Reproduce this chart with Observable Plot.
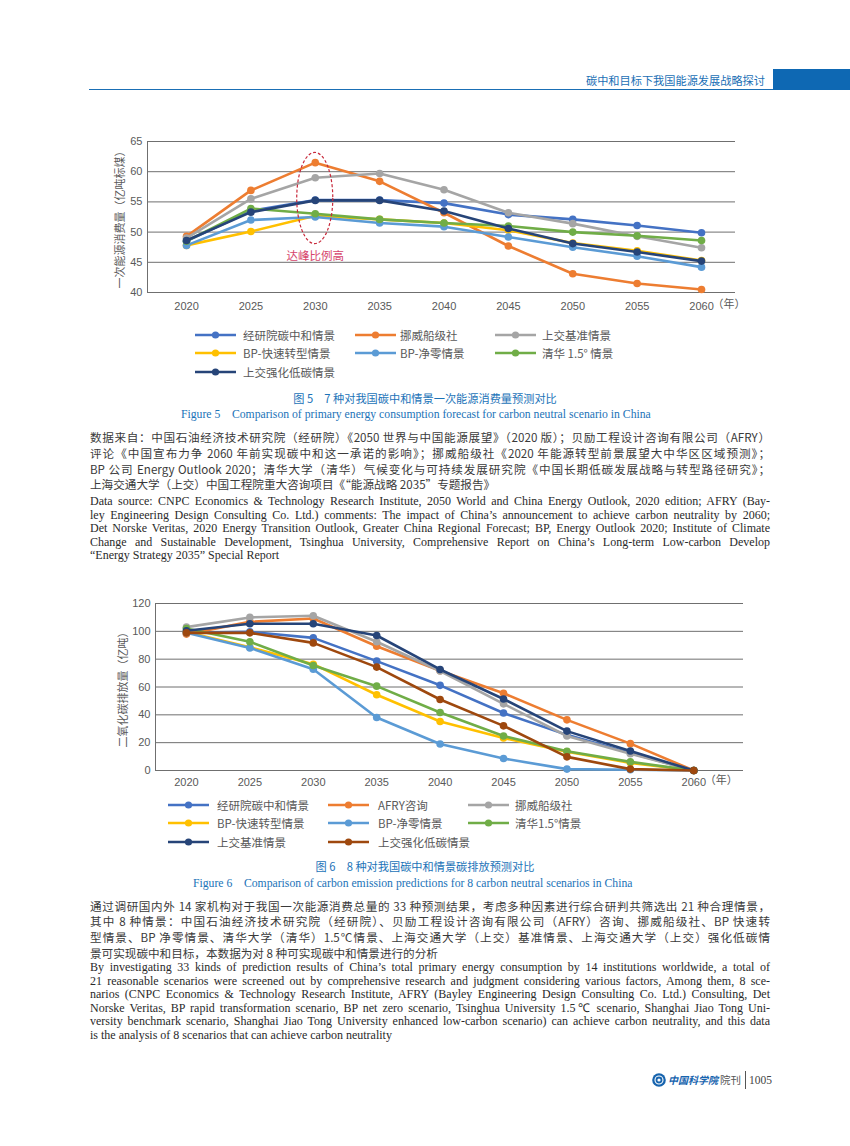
<!DOCTYPE html>
<html><head><meta charset="utf-8">
<script src="https://cdn.jsdelivr.net/npm/d3@7"></script>
<script src="https://cdn.jsdelivr.net/npm/@observablehq/plot@0.6"></script>
<style>
body{margin:0;background:#fff;}
#page{position:relative;width:850px;height:1146px;overflow:hidden;font-family:"Noto Sans CJK SC","Liberation Sans",sans-serif;}
</style></head><body><div id="page"></div>
<script>
// ---------- data ----------
const years = [2020, 2025, 2030, 2035, 2040, 2045, 2050, 2055, 2060];

// Figure 5: primary energy consumption (亿吨标煤)
const names1 = ["经研院碳中和情景", "挪威船级社", "上交基准情景", "BP-快速转型情景", "BP-净零情景", "清华 1.5° 情景", "上交强化低碳情景"];
const colors1 = ["#4472C4", "#ED7D31", "#A5A5A5", "#FFC000", "#5B9BD5", "#70AD47", "#264478"];
const e_jyy      = [48.5, 53.5, 55.3, 55.3, 54.8, 52.9, 52.1, 51.1, 49.9];
const e_dnv      = [49.3, 56.9, 61.5, 58.4, 53.2, 47.7, 43.1, 41.5, 40.5];
const e_sjtuBase = [49.0, 55.5, 59.0, 59.7, 57.0, 53.2, 51.4, 49.3, 47.4];
const e_bpRapid  = [47.8, 50.1, 52.7, 52.1, 51.5, 50.3, 48.2, 46.9, 45.3];
const e_bpNet    = [47.8, 52.0, 52.5, 51.5, 50.9, 49.2, 47.5, 46.0, 44.2];
const e_thu      = [48.5, 53.9, 53.05, 52.1, 51.5, 51.0, 50.0, 49.4, 48.6];
const e_sjtuLow  = [48.6, 53.3, 55.25, 55.25, 53.5, 50.6, 48.1, 46.7, 45.2];
const series1 = [e_jyy, e_dnv, e_sjtuBase, e_bpRapid, e_bpNet, e_thu, e_sjtuLow];
const yTicks1 = [40, 45, 50, 55, 60, 65];
const yLabel1 = "一次能源消费量（亿吨标煤）";
const note1 = "达峰比例高";
const noteYear = 2030, noteValue = 46.0;          // label position
const ellYear = 2030, ellValue = 55.56, ellHalfYears = 1.4, ellHalfValue = 7.55; // dashed ellipse

// Figure 6: CO2 emissions (亿吨)
const names2 = ["经研院碳中和情景", "AFRY咨询", "挪威船级社", "BP-快速转型情景", "BP-净零情景", "清华1.5°情景", "上交基准情景", "上交强化低碳情景"];
const colors2 = ["#4472C4", "#ED7D31", "#A5A5A5", "#FFC000", "#5B9BD5", "#70AD47", "#264478", "#9E480E"];
const c_jyy      = [99.0, 99.6, 95.3, 78.6, 61.2, 41.3, 25.6, 12.5, 0];
const c_afry     = [98.0, 106.8, 109.2, 89.3, 71.7, 55.5, 36.4, 19.3, 0];
const c_dnv      = [103.0, 110.0, 111.2, 92.5, 71.5, 47.9, 24.8, 12.1, 0];
const c_bpRapid  = [99.5, 88.6, 76.4, 54.4, 35.2, 23.3, 13.5, 5.5, 0];
const c_bpNet    = [99.0, 88.1, 72.8, 38.1, 19.0, 8.6, 1.0, 0.5, 0];
const c_thu      = [102.0, 92.5, 75.4, 60.6, 41.7, 24.8, 13.8, 6.2, 0];
const c_sjtuBase = [100.4, 105.4, 105.4, 97.0, 72.6, 51.4, 28.3, 14.0, 0];
const c_sjtuLow  = [98.9, 98.9, 91.7, 74.3, 51.0, 32.1, 9.8, 1.0, 0];
const series2 = [c_jyy, c_afry, c_dnv, c_bpRapid, c_bpNet, c_thu, c_sjtuBase, c_sjtuLow];
const yTicks2 = [0, 20, 40, 60, 80, 100, 120];
const yLabel2 = "二氧化碳排放量（亿吨）";
const yearUnit = "（年）";

// ---------- texts ----------
const headerText = "碳中和目标下我国能源发展战略探讨";
const cap5cn = "图 5　7 种对我国碳中和情景一次能源消费量预测对比";
const cap5en = "Figure 5    Comparison of primary energy consumption forecast for carbon neutral scenario in China";
const src5cn = [
  "数据来自：中国石油经济技术研究院（经研院）《2050 世界与中国能源展望》（2020 版）；贝励工程设计咨询有限公司（AFRY）",
  "评论《中国宣布力争 2060 年前实现碳中和这一承诺的影响》；挪威船级社《2020 年能源转型前景展望大中华区区域预测》；",
  "BP 公司 Energy Outlook 2020；清华大学（清华）气候变化与可持续发展研究院《中国长期低碳发展战略与转型路径研究》；",
  "上海交通大学（上交）中国工程院重大咨询项目《“能源战略 2035”专题报告》"
];
const src5en = [
  "Data source: CNPC Economics & Technology Research Institute, 2050 World and China Energy Outlook, 2020 edition; AFRY (Bay-",
  "ley Engineering Design Consulting Co. Ltd.) comments: The impact of China’s announcement to achieve carbon neutrality by 2060;",
  "Det Norske Veritas, 2020 Energy Transition Outlook, Greater China Regional Forecast; BP, Energy Outlook 2020; Institute of Climate",
  "Change and Sustainable Development, Tsinghua University, Comprehensive Report on China’s Long-term Low-carbon Develop",
  "“Energy Strategy 2035” Special Report"
];
const cap6cn = "图 6　8 种对我国碳中和情景碳排放预测对比";
const cap6en = "Figure 6    Comparison of carbon emission predictions for 8 carbon neutral scenarios in China";
const src6cn = [
  "通过调研国内外 14 家机构对于我国一次能源消费总量的 33 种预测结果，考虑多种因素进行综合研判共筛选出 21 种合理情景，",
  "其中 8 种情景：中国石油经济技术研究院（经研院）、贝励工程设计咨询有限公司（AFRY）咨询、挪威船级社、BP 快速转",
  "型情景、BP 净零情景、清华大学（清华）1.5℃情景、上海交通大学（上交）基准情景、上海交通大学（上交）强化低碳情",
  "景可实现碳中和目标，本数据为对 8 种可实现碳中和情景进行的分析"
];
const src6en = [
  "By investigating 33 kinds of prediction results of China’s total primary energy consumption by 14 institutions worldwide, a total of",
  "21 reasonable scenarios were screened out by comprehensive research and judgment considering various factors, Among them, 8 sce-",
  "narios (CNPC Economics & Technology Research Institute, AFRY (Bayley Engineering Design Consulting Co. Ltd.) Consulting, Det",
  "Norske Veritas, BP rapid transformation scenario, BP net zero scenario, Tsinghua University 1.5℃ scenario, Shanghai Jiao Tong Uni-",
  "versity benchmark scenario, Shanghai Jiao Tong University enhanced low-carbon scenario) can achieve carbon neutrality, and this data",
  "is the analysis of 8 scenarios that can achieve carbon neutrality"
];
const footerBrand = "中国科学院", footerJournal = "院刊", footerPage = "1005";

// ---------- helpers ----------
const page = document.getElementById("page");
function el(tag, css, text) {
  const e = document.createElement(tag);
  e.style.cssText = css;
  if (text != null) e.textContent = text;
  page.appendChild(e);
  return e;
}
function textBlock(lines, x, y0, lead, width, font, size, color) {
  lines.forEach((t, i) => {
    const last = i === lines.length - 1;
    const d = el("div", `position:absolute;left:${x}px;top:${y0 + i * lead - 8}px;width:${width}px;height:16px;line-height:16px;font-family:${font};font-size:${size}px;color:${color};white-space:nowrap;text-align:left;${last ? "" : "text-align-last:justify;text-align:justify;"}`, t);
    let s = size;
    while (d.scrollWidth > width + 0.5 && s > 6) { s -= 0.1; d.style.fontSize = s + "px"; }
  });
}
function tidy(names, series) {
  return names.map((n, i) => series[i].map((v, j) => ({series: n, year: years[j], value: v})));
}
function legend(names, colors, colX, textX, rowY) {
  names.forEach((n, i) => {
    const c = i % 3, r = Math.floor(i / 3);
    const svg = d3.create("svg").attr("width", 42).attr("height", 10)
      .style("position", "absolute").style("left", colX[c] + "px").style("top", (rowY[r] - 5) + "px");
    svg.append("line").attr("x1", 0).attr("x2", 41).attr("y1", 5).attr("y2", 5).attr("stroke", colors[i]).attr("stroke-width", 2.6);
    svg.append("circle").attr("cx", 20.5).attr("cy", 5).attr("r", 3.6).attr("fill", colors[i]);
    page.appendChild(svg.node());
    el("div", `position:absolute;left:${textX[c]}px;top:${rowY[r] - 8}px;font-size:11.5px;line-height:16px;color:#595959;white-space:nowrap;`, n);
  });
}
function lineChart({names, colors, series, yDomain, yTicks, xDomain, top, mTop, mLeft, mRight, mBottom, height, xPad, yPad, yLabel, yLabelDx, unitDx, extra}) {
  const groups = tidy(names, series);
  const marks = [
    Plot.gridY(yTicks, {stroke: "#6f6f6f", strokeOpacity: 1, strokeWidth: 1}),
    Plot.ruleX([xDomain[0]], {stroke: "#6f6f6f", strokeWidth: 1}),
    Plot.axisX({ticks: years, tickFormat: d => String(d), tickSize: 0, tickPadding: xPad, label: null, fill: "#595959"}),
    Plot.axisY({ticks: yTicks, tickFormat: d => String(d), tickSize: 0, tickPadding: yPad, label: null, fill: "#595959"}),
    Plot.text([yLabel], {frameAnchor: "left", textAnchor: "middle", rotate: -90, dx: yLabelDx, fontSize: 11, fill: "#595959", fontFamily: "Noto Sans CJK SC"}),
    Plot.text([yearUnit], {x: () => years[years.length - 1], frameAnchor: "bottom", textAnchor: "start", dx: unitDx, dy: xPad + 5, fontSize: 11, fill: "#595959", fontFamily: "Noto Sans CJK SC"})
  ];
  groups.forEach((g, i) => {
    marks.push(Plot.line(g, {x: "year", y: "value", stroke: colors[i], strokeWidth: 2.6}));
    marks.push(Plot.dot(g, {x: "year", y: "value", fill: colors[i], r: 3.8, stroke: "none"}));
  });
  if (extra) marks.push(...extra);
  const svg = Plot.plot({
    width: 850, height, marginTop: mTop, marginLeft: mLeft, marginRight: mRight, marginBottom: mBottom,
    x: {domain: xDomain, axis: null}, y: {domain: yDomain, axis: null},
    style: {fontFamily: "'Liberation Sans', sans-serif", fontSize: "11px", color: "#595959", background: "transparent", overflow: "visible"},
    marks
  });
  svg.style.position = "absolute"; svg.style.left = "0px"; svg.style.top = top + "px";
  page.appendChild(svg);
}

// ---------- header ----------
el("div", "position:absolute;left:89px;top:88.5px;width:684px;height:1.5px;background:#1a6fb5;");
el("div", "position:absolute;left:773px;top:69px;width:77px;height:21px;background:#0e68b3;");
el("div", "position:absolute;right:85px;top:72px;font-size:11.2px;line-height:16px;color:#1a6fb5;white-space:nowrap;", headerText);

// ---------- Figure 5 chart ----------
lineChart({
  names: names1, colors: colors1, series: series1, yDomain: [40, 65], yTicks: yTicks1,
  xDomain: [2016.97, 2062.64], top: 120, mTop: 21, mLeft: 147, mRight: 115, mBottom: 29, height: 201,
  xPad: 10, yPad: 5, yLabel: yLabel1, yLabelDx: -27, unitDx: 11,
  extra: [
    Plot.text([note1], {x: () => noteYear, y: () => noteValue, fill: "#d6456c", fontSize: 11.5, fontFamily: "Noto Sans CJK SC"}),
    (index, scales) => {
      const cx = scales.x(ellYear), cy = scales.y(ellValue);
      const rx = scales.x(ellYear + ellHalfYears) - cx, ry = scales.y(ellValue - ellHalfValue) - cy;
      return d3.create("svg:ellipse").attr("cx", cx).attr("cy", cy).attr("rx", rx).attr("ry", ry)
        .attr("fill", "none").attr("stroke", "#c8283a").attr("stroke-width", 1.2).attr("stroke-dasharray", "3,2").node();
    }
  ]
});
legend(names1, colors1, [195, 355, 495], [243, 400, 542], [335, 353, 372]);

// ---------- captions & text fig 5 ----------
el("div", "position:absolute;left:0;width:850px;top:390px;text-align:center;font-family:'Noto Sans CJK SC';font-size:11.2px;line-height:16px;color:#1b73b8;", cap5cn);
el("div", "position:absolute;left:181px;top:407px;font-family:'Liberation Serif';font-size:11.7px;line-height:16px;color:#1b73b8;white-space:pre;", cap5en);
textBlock(src5cn, 90, 437, 15.8, 680, "'Noto Sans CJK SC'", 11.6, "#3a3a3a");
textBlock(src5en, 90, 501, 13.6, 680, "'Liberation Serif'", 12, "#2a2a2a");

// ---------- Figure 6 chart ----------
lineChart({
  names: names2, colors: colors2, series: series2, yDomain: [0, 120], yTicks: yTicks2,
  xDomain: [2017.56, 2063.92], top: 590, mTop: 13, mLeft: 155, mRight: 107, mBottom: 25, height: 205,
  xPad: 8, yPad: 5, yLabel: yLabel2, yLabelDx: -32, unitDx: 11
});
legend(names2, colors2, [168, 328, 468], [217, 378, 515], [805, 823, 842]);

el("div", "position:absolute;left:0;width:850px;top:858px;text-align:center;font-family:'Noto Sans CJK SC';font-size:11.2px;line-height:16px;color:#1b73b8;", cap6cn);
el("div", "position:absolute;left:193px;top:876px;font-family:'Liberation Serif';font-size:11.7px;line-height:16px;color:#1b73b8;white-space:pre;", cap6en);
textBlock(src6cn, 90, 905.5, 15.8, 680, "'Noto Sans CJK SC'", 11.6, "#3a3a3a");
textBlock(src6en, 90, 967, 13.6, 680, "'Liberation Serif'", 12, "#2a2a2a");

// ---------- footer ----------
const logo = d3.create("svg").attr("width", 14).attr("height", 14).style("position", "absolute").style("left", "652px").style("top", "1073px");
logo.append("circle").attr("cx", 7).attr("cy", 7).attr("r", 6.8).attr("fill", "#1764ae");
logo.append("circle").attr("cx", 7).attr("cy", 7).attr("r", 4).attr("fill", "none").attr("stroke", "#fff").attr("stroke-width", 1.1);
logo.append("circle").attr("cx", 7).attr("cy", 7).attr("r", 1.6).attr("fill", "#fff");
page.appendChild(logo.node());
el("div", "position:absolute;left:668px;top:1072px;font-family:'Noto Sans CJK SC';font-weight:bold;font-size:10px;line-height:16px;color:#1764ae;font-style:italic;white-space:nowrap;", footerBrand);
el("div", "position:absolute;left:720px;top:1072px;font-family:'Noto Sans CJK SC';font-size:10.5px;line-height:16px;color:#555;", footerJournal);
el("div", "position:absolute;left:745px;top:1071px;width:1px;height:18px;background:#555;");
el("div", "position:absolute;left:749px;top:1072px;font-family:'Liberation Serif';font-size:11.5px;line-height:16px;color:#444;", footerPage);
</script></body></html>
